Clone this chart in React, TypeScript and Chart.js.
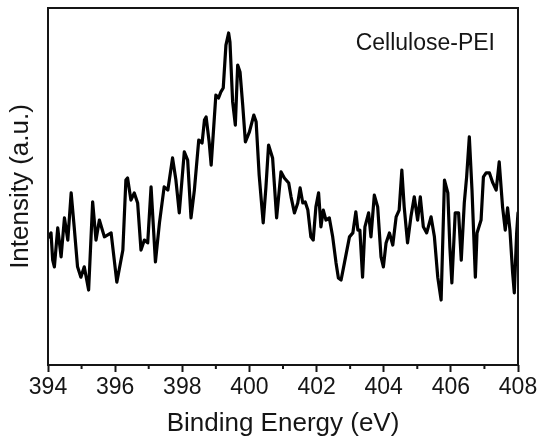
import { useEffect, useRef } from "react";
import { Chart, registerables } from "chart.js";

Chart.register(...registerables);

const energies = [
  394.0, 394.09, 394.14, 394.19, 394.29, 394.39, 394.49, 394.59, 394.69, 394.78,
  394.88, 394.98, 395.08, 395.21, 395.33, 395.43, 395.53, 395.68, 395.88, 396.05,
  396.23, 396.32, 396.37, 396.47, 396.57, 396.67, 396.77, 396.87, 396.97, 397.07,
  397.2, 397.32, 397.46, 397.57, 397.71, 397.81, 397.91, 398.06, 398.16, 398.26,
  398.36, 398.49, 398.59, 398.66, 398.71, 398.8, 398.86, 398.92, 399.0, 399.08,
  399.15, 399.22, 399.3, 399.38, 399.42, 399.5, 399.58, 399.65, 399.72, 399.8,
  399.88, 400.0, 400.13, 400.2, 400.29, 400.41, 400.49, 400.57, 400.69, 400.81,
  400.94, 401.04, 401.17, 401.24, 401.34, 401.44, 401.51, 401.59, 401.66, 401.74,
  401.83, 401.9, 401.98, 402.06, 402.13, 402.2, 402.28, 402.38, 402.48, 402.58,
  402.65, 402.73, 402.83, 402.98, 403.08, 403.17, 403.23, 403.29, 403.37, 403.44,
  403.55, 403.62, 403.72, 403.82, 403.92, 403.99, 404.07, 404.17, 404.27, 404.37,
  404.46, 404.54, 404.61, 404.71, 404.81, 404.91, 405.01, 405.09, 405.18, 405.28,
  405.41, 405.51, 405.61, 405.71, 405.81, 405.91, 405.97, 406.03, 406.13, 406.23,
  406.31, 406.4, 406.47, 406.55, 406.63, 406.73, 406.78, 406.9, 406.97, 407.05,
  407.15, 407.25, 407.35, 407.44, 407.54, 407.62, 407.69, 407.76, 407.84, 407.89,
  407.96, 408.0,
];

const intensities = [
  35.6, 37.0, 29.4, 27.5, 38.4, 30.3, 41.2, 35.0, 48.2, 38.7,
  27.5, 24.6, 27.5, 21.0, 45.7, 35.0, 40.6, 35.9, 37.0, 23.2,
  32.2, 51.8, 52.4, 46.2, 48.2, 45.4, 32.2, 35.0, 34.2, 49.9,
  28.9, 39.8, 49.9, 49.0, 58.0, 51.8, 42.6, 59.7, 57.4, 41.2,
  49.0, 63.0, 62.2, 68.6, 69.5, 62.5, 56.0, 64.4, 75.6, 74.8,
  76.5, 77.6, 89.6, 93.0, 90.5, 73.7, 67.2, 84.0, 82.1, 72.8,
  62.5, 65.3, 70.0, 68.1, 53.2, 39.8, 49.6, 61.6, 58.0, 41.2,
  54.1, 52.4, 51.0, 47.1, 42.6, 45.4, 49.6, 45.4, 45.7, 43.4,
  35.9, 35.0, 44.3, 48.2, 38.7, 43.4, 40.6, 41.2, 35.9, 28.6,
  24.4, 23.8, 28.6, 35.9, 37.0, 42.9, 37.8, 37.8, 24.6, 38.7,
  42.6, 35.9, 47.6, 44.3, 30.3, 27.5, 34.2, 37.0, 33.6, 41.5,
  43.4, 54.6, 44.3, 34.2, 41.5, 47.1, 40.6, 47.1, 38.7, 37.0,
  41.5, 35.9, 24.6, 18.2, 51.8, 48.2, 33.1, 23.0, 42.6, 42.6,
  29.4, 45.4, 52.7, 63.9, 49.0, 24.6, 37.0, 40.6, 52.7, 53.8,
  53.8, 51.0, 49.0, 56.9, 44.3, 37.8, 44.0, 37.8, 25.8, 20.2,
  37.0, 42.6,
];

const xTickValues = [394, 395, 396, 397, 398, 399, 400, 401, 402, 403, 404, 405, 406, 407, 408];
const xTickLabels = ["394", "", "396", "", "398", "", "400", "", "402", "", "404", "", "406", "", "408"];

const seriesLabel = "Cellulose-PEI";
const xTitle = "Binding Energy (eV)";
const yTitle = "Intensity (a.u.)";

const FONT = "'Liberation Sans', Arial, Helvetica, sans-serif";
const INK = "#151515";

export default function App() {
  const ref = useRef<HTMLCanvasElement>(null);

  useEffect(() => {
    document.body.style.margin = "0";
    const canvas = ref.current;
    if (!canvas) return;

    const framePlugin = {
      id: "frameAndLabel",
      afterDraw(chart: any) {
        const { ctx, chartArea: a } = chart;
        const xs = chart.scales.x;
        ctx.save();
        ctx.strokeStyle = INK;
        ctx.lineWidth = 2;
        ctx.strokeRect(a.left, a.top, a.right - a.left, a.bottom - a.top);
        ctx.beginPath();
        xTickValues.forEach((v, i) => {
          if (xTickLabels[i] === "") {
            const px = xs.getPixelForValue(v);
            ctx.moveTo(px, a.bottom);
            ctx.lineTo(px, a.bottom + 4);
          }
        });
        ctx.stroke();
        ctx.fillStyle = INK;
        ctx.font = `23px ${FONT}`;
        ctx.textAlign = "right";
        ctx.textBaseline = "middle";
        ctx.fillText(seriesLabel, a.right - 23, a.top + 36);
        ctx.restore();
      },
    };

    const chart = new Chart(canvas, {
      type: "line",
      data: {
        datasets: [
          {
            label: seriesLabel,
            data: energies.map((e, i) => ({ x: e, y: intensities[i] })),
            borderColor: "#000",
            borderWidth: 3.2,
            borderJoinStyle: "round",
            borderCapStyle: "round",
            pointRadius: 0,
            tension: 0,
            fill: false,
          },
        ],
      },
      options: {
        animation: false,
        responsive: true,
        maintainAspectRatio: false,
        layout: { padding: { top: 8, right: 32, left: 0, bottom: 0 } },
        plugins: { legend: { display: false }, tooltip: { enabled: false } },
        scales: {
          x: {
            type: "linear",
            min: 394,
            max: 408,
            afterBuildTicks: (scale: any) => {
              scale.ticks = xTickValues.map((v) => ({ value: v }));
            },
            afterFit: (scale: any) => {
              scale.height = 80;
            },
            ticks: {
              autoSkip: false,
              maxRotation: 0,
              padding: 2,
              color: INK,
              font: { family: FONT, size: 23 },
              callback: (value: any) => {
                const i = xTickValues.indexOf(Number(value));
                return i >= 0 ? xTickLabels[i] : "";
              },
            },
            grid: {
              drawOnChartArea: false,
              drawTicks: true,
              tickLength: 7,
              tickWidth: 2,
              tickColor: (c: any) => {
                const v = c.tick ? c.tick.value : NaN;
                const i = xTickValues.indexOf(v);
                return i >= 0 && xTickLabels[i] !== "" ? INK : "rgba(0,0,0,0)";
              },
            },
            border: { display: false },
            title: {
              display: true,
              text: xTitle,
              color: INK,
              font: { family: FONT, size: 26 },
              padding: { top: 0, bottom: 6 },
            },
          },
          y: {
            min: 0,
            max: 100,
            afterFit: (scale: any) => {
              scale.width = 48;
            },
            ticks: { display: false },
            grid: { display: false, drawTicks: false },
            border: { display: false },
            title: {
              display: true,
              text: yTitle,
              color: INK,
              font: { family: FONT, size: 26 },
              padding: { top: 5, bottom: 0 },
            },
          },
        },
      },
      plugins: [framePlugin],
    });

    return () => chart.destroy();
  }, []);

  return (
    <div style={{ position: "relative", width: 550, height: 445, background: "#fff" }}>
      <canvas ref={ref} />
    </div>
  );
}
